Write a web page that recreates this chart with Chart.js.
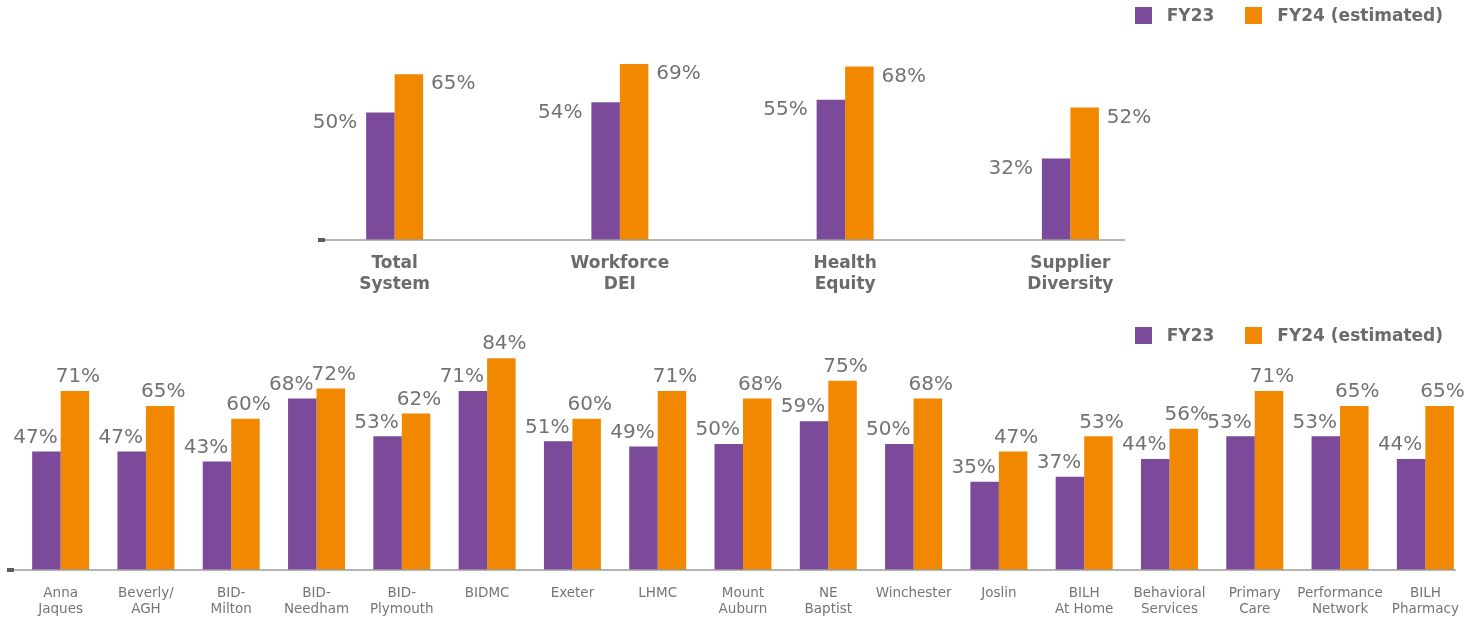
<!DOCTYPE html>
<html><head><meta charset="utf-8">
<script src="https://cdn.jsdelivr.net/npm/chart.js@4.4.1/dist/chart.umd.min.js"></script>
<style>
html,body{margin:0;padding:0;background:#fff;}
body{width:1484px;height:619px;position:relative;overflow:hidden;font-family:"DejaVu Sans";}
.wrap{position:absolute;left:0;width:1484px;}
#topWrap{top:0;height:300px;}
#botWrap{top:300px;height:319px;}
.legend{position:absolute;right:41px;display:flex;align-items:center;font:bold 17px "DejaVu Sans";line-height:20px;color:#6b6b6b;}
.legend .item{display:flex;align-items:center;margin-left:31px;}
.legend .item:first-child{margin-left:0;}
.legend .box{display:inline-block;width:17px;height:17px;margin-right:15px;}
#topLegend{top:5px;}
#botLegend{top:325px;}
</style>
</head><body>
<div id="topWrap" class="wrap"><canvas id="topChart"></canvas></div>
<div id="botWrap" class="wrap"><canvas id="botChart"></canvas></div>
<div id="topLegend" class="legend"></div>
<div id="botLegend" class="legend"></div>
<script>
// ---- data ----
const seriesLabels = ['FY23', 'FY24 (estimated)'];
const topCategories = [['Total','System'],['Workforce','DEI'],['Health','Equity'],['Supplier','Diversity']];
const topFY23 = [50, 54, 55, 32];
const topFY24 = [65, 69, 68, 52];
const botCategories = [['Anna','Jaques'],['Beverly/','AGH'],['BID-','Milton'],['BID-','Needham'],['BID-','Plymouth'],'BIDMC','Exeter','LHMC',['Mount','Auburn'],['NE','Baptist'],'Winchester','Joslin',['BILH','At Home'],['Behavioral','Services'],['Primary','Care'],['Performance','Network'],['BILH','Pharmacy']];
const botFY23 = [47, 47, 43, 68, 53, 71, 51, 49, 50, 59, 50, 35, 37, 44, 53, 53, 44];
const botFY24 = [71, 65, 60, 72, 62, 84, 60, 71, 68, 75, 68, 47, 53, 56, 71, 65, 65];

const PURPLE = '#7b4a9a';
const ORANGE = '#f18800';
const GRAY = '#737373';

const htmlLegendPlugin = {
  id: 'htmlLegend',
  afterUpdate(chart, args, options) {
    const box = document.getElementById(options.containerID);
    box.innerHTML = '';
    const items = chart.options.plugins.legend.labels.generateLabels(chart);
    items.forEach(item => {
      const li = document.createElement('div'); li.className = 'item';
      const sw = document.createElement('span'); sw.className = 'box'; sw.style.background = item.fillStyle;
      const t = document.createElement('span'); t.textContent = item.text;
      li.appendChild(sw); li.appendChild(t); box.appendChild(li);
    });
  }
};

const valueLabels = {
  id: 'valueLabels',
  afterDatasetsDraw(chart, args, opts) {
    const ctx = chart.ctx;
    ctx.save();
    ctx.font = opts.font;
    ctx.fillStyle = opts.color;
    ctx.textBaseline = 'middle';
    chart.data.datasets.forEach((ds, di) => {
      const meta = chart.getDatasetMeta(di);
      const p = opts.place[di];
      meta.data.forEach((bar, i) => {
        const txt = ds.data[i] + '%';
        const half = bar.width / 2;
        let x;
        if (p.align === 'right') { ctx.textAlign = 'right'; x = bar.x - half - p.dx; }
        else if (p.align === 'left') { ctx.textAlign = 'left'; x = bar.x + half + p.dx; }
        else { ctx.textAlign = 'center'; x = bar.x + p.dx; }
        ctx.fillText(txt, x, bar.y + p.dy);
      });
    });
    ctx.restore();
  }
};

const baseLine = {
  id: 'baseLine',
  afterDatasetsDraw(chart, args, o) {
    const { ctx, chartArea } = chart;
    const y = chart.scales.y.getPixelForValue(0);
    const x1 = chartArea.left + o.startOffset, x2 = chartArea.right + o.endOffset;
    ctx.save();
    ctx.strokeStyle = o.color; ctx.lineWidth = o.width;
    ctx.beginPath(); ctx.moveTo(x1, y); ctx.lineTo(x2, y); ctx.stroke();
    ctx.fillStyle = o.tickColor; ctx.fillRect(x1, y - 2, 7, 4);
    ctx.restore();
  }
};

function makeChart(id, labels, a, b, cfg) {
  return new Chart(document.getElementById(id), {
    type: 'bar',
    data: {
      labels: labels,
      datasets: [
        { label: seriesLabels[0], data: a, backgroundColor: PURPLE, borderWidth: 0 },
        { label: seriesLabels[1], data: b, backgroundColor: ORANGE, borderWidth: 0 }
      ]
    },
    options: {
      responsive: true, maintainAspectRatio: false, animation: false,
      layout: { padding: cfg.padding },
      datasets: { bar: { categoryPercentage: cfg.cp, barPercentage: 1 } },
      scales: {
        x: {
          grid: { display: false }, border: { display: false },
          ticks: { color: cfg.tickColor, font: cfg.tickFont, padding: cfg.tickPad, autoSkip: false, maxRotation: 0, minRotation: 0 },
          afterFit(s) { s.height = cfg.axisH; }
        },
        y: { display: false, min: 0, max: cfg.max }
      },
      plugins: {
        legend: { display: false },
        tooltip: { enabled: false },
        htmlLegend: { containerID: cfg.legendId },
        valueLabels: { font: '20px "DejaVu Sans"', color: GRAY, place: cfg.place },
        baseLine: { color: '#9c9c9c', width: 1.5, tickColor: '#5c5c5c', startOffset: cfg.lineStart, endOffset: cfg.lineEnd }
      }
    },
    plugins: [htmlLegendPlugin, valueLabels, baseLine]
  });
}

makeChart('topChart', topCategories, topFY23, topFY24, {
  padding: { left: 282, right: 301, top: 36, bottom: 0 },
  cp: 0.253, max: 80, axisH: 60, tickPad: 5,
  tickColor: '#6b6b6b', tickFont: { family: 'DejaVu Sans', size: 17, weight: 'bold', lineHeight: 1.25 },
  legendId: 'topLegend',
  place: [{ align: 'right', dx: 9, dy: 10 }, { align: 'left', dx: 8, dy: 10 }],
  lineStart: 36, lineEnd: -58
});

makeChart('botChart', botCategories, botFY23, botFY24, {
  padding: { left: 18, right: 16, top: 43, bottom: 0 },
  cp: 0.668, max: 90, axisH: 49, tickPad: 8,
  tickColor: '#757575', tickFont: { family: 'DejaVu Sans', size: 13.5, lineHeight: 1.14 },
  legendId: 'botLegend',
  place: [{ align: 'center', dx: -11, dy: -14 }, { align: 'center', dx: 3, dy: -14 }],
  lineStart: -11, lineEnd: -12
});
</script>
</body></html>
